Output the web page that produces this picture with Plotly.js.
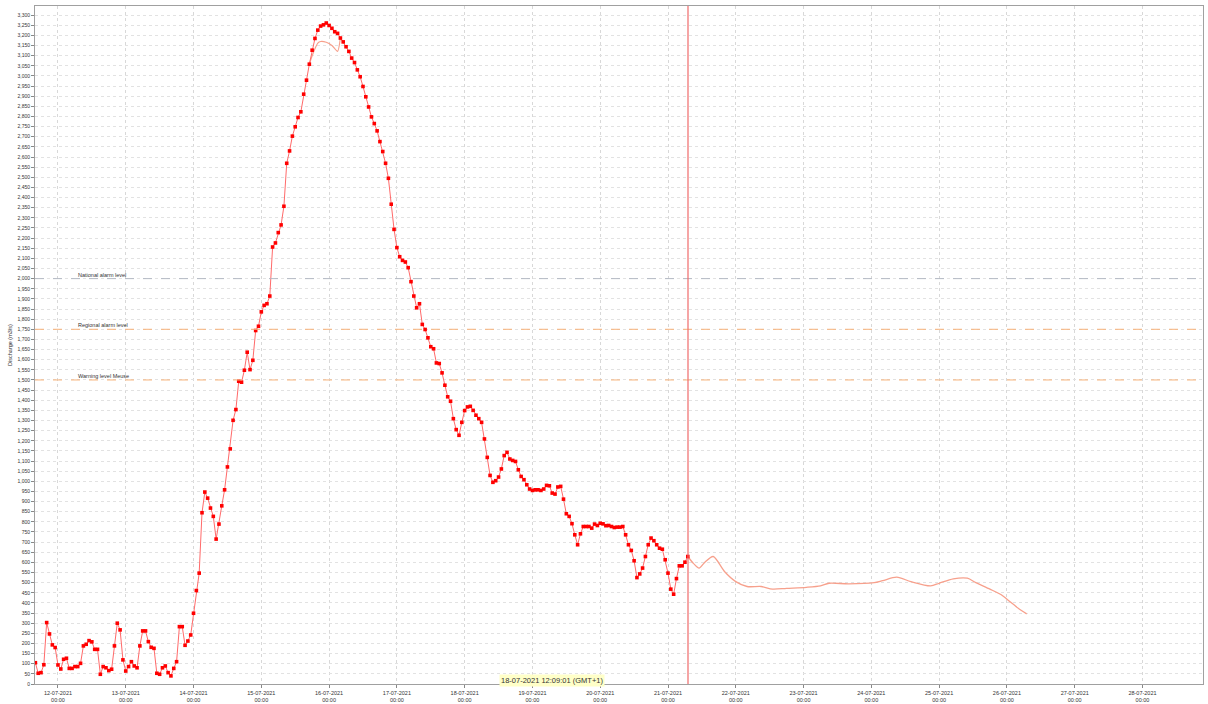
<!DOCTYPE html>
<html>
<head>
<meta charset="utf-8">
<script src="https://cdn.plot.ly/plotly-3.0.1.min.js"></script>
<style>html,body{margin:0;padding:0;background:#fff;}#chart{width:1208px;height:704px;}</style>
</head>
<body>
<div id="chart"></div>
<script>
// Observed discharge, hourly, starting 11-07-2021 16:00
var observedStart = '2021-07-11 16:00';
var observedValues = [
  105,53,56,95,303,247,193,180,94,74,122,127,77,77,86,86,102,188,196,214,208,171,171,48,86,80,66,73,188,300,
  267,119,64,86,110,89,80,188,262,262,209,181,176,53,48,80,89,56,40,77,110,283,283,191,212,242,349,461,547,
  845,947,917,868,827,715,789,879,958,1071,1160,1301,1354,1494,1489,1548,1637,1551,1597,1744,1765,1836,1868,1876,1914,
  2156,2176,2227,2265,2357,2569,2630,2703,2749,2795,2823,2910,2979,3058,3127,3185,3226,3246,3252,3261,3249,3235,3218,3210,
  3187,3168,3144,3121,3088,3066,3030,2996,2948,2897,2847,2798,2765,2729,2676,2627,2569,2495,
  2367,2243,2153,2108,2090,2082,2054,1985,1914,1856,1876,1774,1749,1708,1664,1654,1584,1581,1535,1474,1417,1395,1309,1255,1227,
  1291,1349,1367,1370,1350,1326,1309,1291,1209,1118,1029,995,1003,1021,1061,1127,1143,1110,1103,1098,1057,
  1024,1008,983,962,955,958,958,955,962,980,978,942,937,972,975,912,840,827,791,736,687,741,777,777,777,769,789,782,793,790,
  781,782,777,772,774,774,777,
  736,687,659,608,525,543,572,629,687,720,707,687,670,665,613,547,468,443,520,583,583,601,629
];

// Forecast discharge
var forecastTimes = [
  '2021-07-21 07:00','2021-07-21 09:00','2021-07-21 11:00','2021-07-21 13:00','2021-07-21 16:00','2021-07-21 20:00',
  '2021-07-22 00:00','2021-07-22 04:00','2021-07-22 09:00','2021-07-22 13:00','2021-07-22 18:00','2021-07-23 01:00',
  '2021-07-23 06:00','2021-07-23 09:00','2021-07-23 16:00','2021-07-24 01:00','2021-07-24 04:00','2021-07-24 09:00',
  '2021-07-24 14:00','2021-07-24 21:00','2021-07-25 00:00','2021-07-25 05:00','2021-07-25 10:00','2021-07-25 13:00',
  '2021-07-25 18:00','2021-07-25 22:00','2021-07-26 01:00','2021-07-26 04:00','2021-07-26 07:00'
];
var forecastValues = [
  629,595,572,600,629,555,
  505,481,481,468,472,477,
  484,497,494,500,510,527,
  505,484,497,519,522,500,
  468,440,407,374,346
];

// Earlier simulation near the peak
var peakSimTimes = ['2021-07-15 17:00','2021-07-15 18:00','2021-07-15 20:00','2021-07-15 21:00','2021-07-15 23:00','2021-07-16 01:00','2021-07-16 03:00','2021-07-16 04:00'];
var peakSimValues = [3058,3100,3162,3170,3166,3150,3121,3187];

// Threshold levels
var levelNames = ['National alarm level','Regional alarm level','Warning level Meuse'];
var levelValues = [2000,1750,1500];
var levelColors = ['#b4bac4','#f7b27a','#f7b27a'];

var nowTime = '2021-07-21 07:05';
var cursorText = '18-07-2021 12:09:01 (GMT+1)';
var yTitle = 'Discharge (m3/s)';

var xRange = ['2021-07-11 15:52','2021-07-28 21:26'];
var yRange = [0, 3345];

function pad(n){return (n<10?'0':'')+n;}
function addHours(s, h){
  var p = s.split(/[- :]/).map(Number);
  var d = new Date(Date.UTC(p[0], p[1]-1, p[2], p[3], p[4]) + h*3600000);
  return d.getUTCFullYear()+'-'+pad(d.getUTCMonth()+1)+'-'+pad(d.getUTCDate())+' '+pad(d.getUTCHours())+':'+pad(d.getUTCMinutes());
}
var observedTimes = observedValues.map(function(v,i){return addHours(observedStart, i);});

var FONT = 'Liberation Sans, Arial, sans-serif';

var traces = [
  {x: forecastTimes, y: forecastValues, type:'scatter', mode:'lines', line:{color:'#f7a08c', width:1.3, shape:'spline', smoothing:0.8}, hoverinfo:'skip'},
  {x: peakSimTimes, y: peakSimValues, type:'scatter', mode:'lines', line:{color:'#f7a08c', width:1.2, shape:'spline', smoothing:0.6}, hoverinfo:'skip'},
  {x: observedTimes, y: observedValues, type:'scatter', mode:'lines+markers',
   line:{color:'#ff6a6a', width:1}, marker:{symbol:'square', size:3.6, color:'#ff0000'}}
];

var shapes = [];
var annotations = [];
levelValues.forEach(function(v,i){
  shapes.push({type:'line', xref:'paper', x0:0, x1:1, yref:'y', y0:v, y1:v, line:{color:levelColors[i], width:1, dash:'dash'}});
  annotations.push({xref:'paper', x:0.0352, yref:'y', y:v, text:levelNames[i], showarrow:false, xanchor:'left', yanchor:'bottom', yshift:-1, font:{family:FONT, size:5.5, color:'#333'}});
});
shapes.push({type:'line', xref:'x', x0:nowTime, x1:nowTime, yref:'paper', y0:0, y1:1, line:{color:'#f06a6a', width:1.2}});
annotations.push({xref:'paper', x:0.4426, yref:'paper', y:0.005, text:cursorText, showarrow:false, xanchor:'center', yanchor:'middle', bgcolor:'#ffffc8', borderpad:1, font:{family:FONT, size:7.5, color:'#333'}});

var layout = {
  width:1208, height:704,
  margin:{l:35, r:5, t:6, b:20},
  paper_bgcolor:'#ffffff', plot_bgcolor:'#ffffff',
  showlegend:false,
  font:{family:FONT, size:5.5, color:'#444'},
  xaxis:{
    type:'date', range:xRange, dtick:86400000, tick0:'2021-07-12 00:00',
    tickformat:'%d-%m-%Y<br>%H:%M', ticks:'outside', ticklen:3, tickcolor:'#888',
    tickfont:{family:FONT, size:5.5, color:'#333'},
    showgrid:true, gridcolor:'#d8d8d8', griddash:'dot', gridwidth:1,
    showline:true, linecolor:'#a0a0a0', mirror:true, zeroline:false, automargin:false
  },
  yaxis:{
    range:yRange, dtick:50, tick0:0, tickformat:',d', ticks:'outside', ticklen:3, tickcolor:'#888',
    tickfont:{family:FONT, size:5, color:'#333'},
    showgrid:true, gridcolor:'#e2e2e2', griddash:'dot', gridwidth:1,
    showline:true, linecolor:'#a0a0a0', mirror:true, zeroline:false, automargin:false,
    title:{text:yTitle, font:{family:FONT, size:5.5, color:'#333'}, standoff:4}
  },
  shapes:shapes,
  annotations:annotations
};

Plotly.newPlot('chart', traces, layout, {displayModeBar:false, staticPlot:true});
</script>
</body>
</html>
